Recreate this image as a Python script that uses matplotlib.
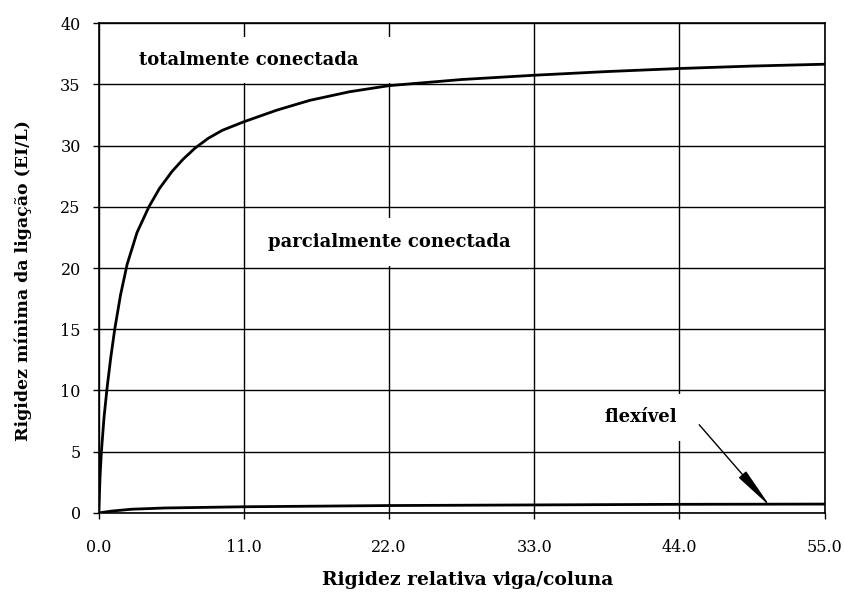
import numpy as np
import matplotlib
matplotlib.use('Agg')
import matplotlib.pyplot as plt
from matplotlib.patches import Rectangle

plt.rcParams['font.family'] = ['DejaVu Serif']

# curva superior: limite entre ligacao totalmente / parcialmente conectada
x_total = [0.0, 0.1, 0.2, 0.4, 0.63, 0.9, 1.21, 1.65, 2.15, 2.9, 3.8, 4.6, 5.56, 6.4, 7.3,
           8.3, 9.36, 11.0, 13.5, 16.0, 19.0, 22.0, 27.5, 33.0, 38.5, 44.0, 49.5, 55.0]
y_total = [0.0, 3.0, 5.0, 7.8, 10.2, 12.6, 15.0, 17.8, 20.3, 22.9, 25.0, 26.5, 27.9, 28.9, 29.8,
           30.6, 31.25, 31.95, 32.9, 33.7, 34.4, 34.9, 35.4, 35.75, 36.05, 36.3, 36.5, 36.65]

# curva inferior: limite flexivel
x_flex = [0.0, 1.0, 2.5, 5.0, 11.0, 22.0, 33.0, 44.0, 55.0]
y_flex = [0.0, 0.15, 0.3, 0.4, 0.5, 0.6, 0.65, 0.7, 0.72]

x_ticks = [0.0, 11.0, 22.0, 33.0, 44.0, 55.0]
y_ticks = [0, 5, 10, 15, 20, 25, 30, 35, 40]

fig = plt.figure(figsize=(8.44, 5.95), dpi=100)
ax = fig.add_axes([0.117, 0.138, 0.860, 0.823])

ax.plot(x_total, y_total, color='black', linewidth=2.0, zorder=3)
ax.plot(x_flex, y_flex, color='black', linewidth=2.0, zorder=3)

ax.set_xlim(0, 55)
ax.set_ylim(0, 40)
ax.set_xticks(x_ticks)
ax.set_xticklabels([f'{v:.1f}' for v in x_ticks])
ax.set_yticks(y_ticks)
ax.grid(True, color='black', linewidth=1.0)
ax.set_axisbelow(True)
for sp in ax.spines.values():
    sp.set_linewidth(1.2)
ax.tick_params(direction='out', length=4, width=1, labelsize=11.5, colors='black')
ax.tick_params(axis='x', pad=15)
ax.tick_params(axis='y', pad=9)

# fundos brancos dos rotulos (escondem parte das linhas de grade)
for (x0, y0, w, h) in [(0.6, 35.15, 22.6, 3.75), (12.0, 20.2, 20.0, 3.9), (40.3, 5.9, 4.6, 3.85)]:
    ax.add_patch(Rectangle((x0, y0), w, h, facecolor='white', edgecolor='none', zorder=1))

ax.text(11.4, 37.0, 'totalmente conectada', ha='center', va='center',
        fontsize=13, fontweight='bold', zorder=2)
ax.text(22.0, 22.1, 'parcialmente conectada', ha='center', va='center',
        fontsize=13, fontweight='bold', zorder=2)
ax.text(41.1, 7.85, 'flexível', ha='center', va='center',
        fontsize=13, fontweight='bold', zorder=2)

ax.annotate('', xy=(50.9, 0.5), xytext=(45.5, 7.2),
            arrowprops=dict(arrowstyle='-|>,head_length=2.6,head_width=0.3',
                            color='black', linewidth=1.0, shrinkA=0, shrinkB=0),
            zorder=4)

ax.set_xlabel('Rigidez relativa viga/coluna', fontsize=13.5, fontweight='bold')
ax.set_ylabel('Rigidez mínima da ligação (EI/L)', fontsize=12.5, fontweight='bold')
ax.xaxis.set_label_coords(0.508, -0.118)
ax.yaxis.set_label_coords(-0.092, 0.474)

fig.savefig('out.png', dpi=100)
